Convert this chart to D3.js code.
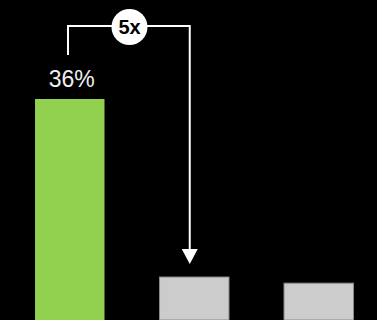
<!DOCTYPE html>
<html><head><meta charset="utf-8">
<script src="https://cdn.jsdelivr.net/npm/d3@7"></script>
<style>html,body{margin:0;padding:0;background:#000;}svg{display:block;}</style>
</head><body>
<svg id="chart" width="377" height="320"></svg>
<script>
const categories = ["A", "B", "C"];
const values = [36, 7, 6];
const barColors = ["#92d050", "#cccccc", "#cccccc"];
const valueLabel = "36%";
const multiplierLabel = "5x";

const W = 377, H = 320;
const svg = d3.select("#chart");
svg.append("rect").attr("width", W).attr("height", H).attr("fill", "#000");

const x = d3.scaleBand().domain(categories).range([7.5, 381]).paddingInner(0.442).paddingOuter(0.221);
const y = d3.scaleLinear().domain([0, 36]).range([320, 99]);

svg.selectAll("rect.bar").data(categories).join("rect")
  .attr("class", "bar")
  .attr("x", d => x(d))
  .attr("y", (d, i) => y(values[i]))
  .attr("width", x.bandwidth())
  .attr("height", (d, i) => y(0) - y(values[i]))
  .attr("fill", (d, i) => barColors[i])
  .attr("stroke", (d, i) => i === 0 ? "none" : "#8a8a8a")
  .attr("stroke-width", 1);

// value label
svg.append("text")
  .attr("x", x(categories[0]) + x.bandwidth() / 2 + 2)
  .attr("y", y(values[0]) - 12)
  .attr("text-anchor", "middle")
  .attr("font-family", "Liberation Sans, Arial, sans-serif")
  .attr("font-size", 23)
  .attr("fill", "#f0f0f0")
  .text(valueLabel);

// bracket
const lx = 68, rx = x(categories[1]) + x.bandwidth() / 2 - 4.5, topY = 26;
const arrowTip = y(values[1]) - 13;
svg.append("path")
  .attr("d", `M${lx},55 V${topY} H${rx} V${arrowTip - 14}`)
  .attr("fill", "none")
  .attr("stroke", "#fff")
  .attr("stroke-width", 2);
svg.append("path")
  .attr("d", `M${rx - 8},${arrowTip - 15} L${rx + 8},${arrowTip - 15} L${rx},${arrowTip} Z`)
  .attr("fill", "#fff");

svg.append("circle").attr("cx", 129.5).attr("cy", 27).attr("r", 18).attr("fill", "#fff");
svg.append("text")
  .attr("x", 129.5).attr("y", 34)
  .attr("text-anchor", "middle")
  .attr("font-family", "Liberation Sans, Arial, sans-serif")
  .attr("font-weight", "bold")
  .attr("font-size", 20)
  .attr("fill", "#000")
  .text(multiplierLabel);
</script>
</body></html>
